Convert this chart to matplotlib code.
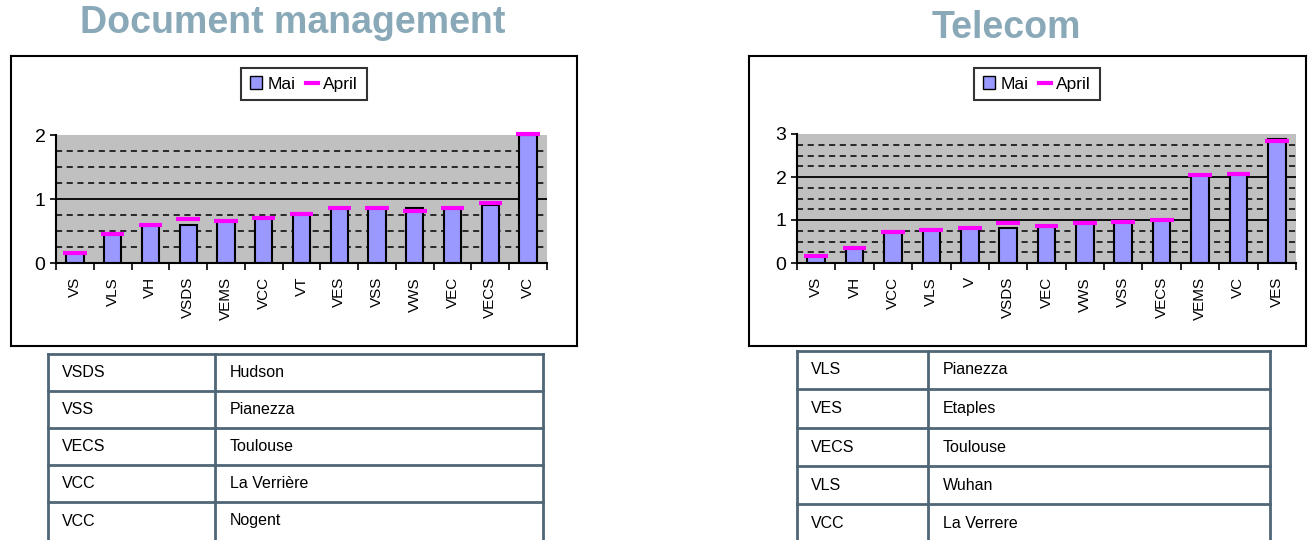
import numpy as np
import matplotlib; matplotlib.use("Agg")
import matplotlib.pyplot as plt
from matplotlib.patches import Rectangle, Patch
from matplotlib.lines import Line2D

plt.rcParams['font.family'] = ['Liberation Sans', 'DejaVu Sans']

# --- data ---
doc_cats = ['VS', 'VLS', 'VH', 'VSDS', 'VEMS', 'VCC', 'VT', 'VES', 'VSS', 'VWS', 'VEC', 'VECS', 'VC']
doc_mai = [0.15, 0.45, 0.59, 0.59, 0.65, 0.71, 0.76, 0.855, 0.855, 0.855, 0.855, 0.91, 2.0]
doc_april = [0.16, 0.45, 0.60, 0.68, 0.65, 0.71, 0.76, 0.855, 0.855, 0.81, 0.855, 0.935, 2.02]

tel_cats = ['VS', 'VH', 'VCC', 'VLS', 'V', 'VSDS', 'VEC', 'VWS', 'VSS', 'VECS', 'VEMS', 'VC', 'VES']
tel_mai = [0.16, 0.34, 0.73, 0.76, 0.81, 0.82, 0.87, 0.92, 0.955, 0.99, 2.04, 2.08, 2.89]
tel_april = [0.16, 0.35, 0.73, 0.76, 0.81, 0.92, 0.87, 0.92, 0.955, 0.99, 2.04, 2.08, 2.83]

doc_table = [('VSDS', 'Hudson'), ('VSS', 'Pianezza'), ('VECS', 'Toulouse'),
             ('VCC', 'La Verrière'), ('VCC', 'Nogent')]
tel_table = [('VLS', 'Pianezza'), ('VES', 'Etaples'), ('VECS', 'Toulouse'),
             ('VLS', 'Wuhan'), ('VCC', 'La Verrere')]

W, H = 1309, 540
fig = plt.figure(figsize=(W / 100, H / 100), dpi=100)


def box(x0, y0, x1, y1):
    return [x0 / W, 1 - y1 / H, (x1 - x0) / W, (y1 - y0) / H]


def fx(x):
    return x / W


def fy(y):
    return 1 - y / H


def chart(frame, plot, legend_c, cats, mai, april, ymax, solid):
    fr = fig.add_axes(box(*frame))
    fr.set_xticks([]); fr.set_yticks([])
    for s in fr.spines.values():
        s.set_linewidth(1.5)
    ax = fig.add_axes(box(*plot))
    ax.set_facecolor('#C0C0C0')
    x = np.arange(len(cats))
    for g in np.arange(0.25, ymax, 0.25):
        if g in solid:
            ax.axhline(g, color='black', lw=1.3, zorder=1)
        else:
            ax.axhline(g, color='black', lw=1.1, ls=(0, (4, 3)), zorder=1)
    ax.bar(x, mai, width=0.46, color='#9999FF', edgecolor='black', lw=1.5, zorder=2)
    for xi, a in zip(x, april):
        ax.plot([xi - 0.31, xi + 0.31], [a, a], color='#FF00FF', lw=3,
                solid_capstyle='butt', zorder=3, clip_on=False)
    ax.set_xlim(-0.5, len(cats) - 0.5)
    ax.set_ylim(0, ymax)
    ax.set_yticks(range(0, ymax + 1))
    ax.tick_params(axis='y', length=4, width=1.2, labelsize=14)
    ax.set_xticks(x)
    ax.set_xticklabels(cats, rotation=90, fontsize=11)
    ax.set_xticks(np.arange(-0.5, len(cats), 1.0), minor=True)
    ax.tick_params(axis='x', which='major', length=0, pad=10)
    ax.tick_params(axis='x', which='minor', length=5, width=1.2)
    ax.spines['top'].set_visible(False)
    ax.spines['right'].set_visible(False)
    ax.spines['left'].set_linewidth(1.5)
    ax.spines['bottom'].set_linewidth(1.5)
    handles = [Patch(facecolor='#9999FF', edgecolor='black', lw=1),
               Line2D([0], [0], color='#FF00FF', lw=3)]
    leg = fig.legend(handles, ['Mai', 'April'], loc='center',
                     bbox_to_anchor=(fx(legend_c[0]), fy(legend_c[1])),
                     ncol=2, fontsize=12.5, frameon=True, fancybox=False,
                     handlelength=0.7, handletextpad=0.3, columnspacing=0.6,
                     borderpad=0.5, edgecolor='black')
    leg.get_frame().set_linewidth(1.5)


def table(x0, xm, x1, rows_y, rows):
    c = '#4F6677'
    for y in rows_y:
        fig.add_artist(Line2D([fx(x0), fx(x1)], [fy(y), fy(y)], color=c, lw=2))
    for xx in (x0, xm, x1):
        fig.add_artist(Line2D([fx(xx), fx(xx)], [fy(rows_y[0]), fy(H + 5)], color=c, lw=2))
    for i, (a, b) in enumerate(rows):
        ym = (rows_y[i] + rows_y[i + 1]) / 2 if i + 1 < len(rows_y) else rows_y[i] + 19
        fig.text(fx(x0 + 14), fy(ym), a, fontsize=11.5, va='center')
        fig.text(fx(xm + 15), fy(ym), b, fontsize=11.5, va='center')


chart((11, 56, 577, 346), (56, 135, 547, 263), (304, 84),
      doc_cats, doc_mai, doc_april, 2, [1.0])
chart((749, 56, 1306, 346), (797, 134, 1296, 263), (1037, 84),
      tel_cats, tel_mai, tel_april, 3, [1.0, 2.0])

table(48, 215, 543, [354, 391, 428, 465, 502], doc_table)
table(797, 928, 1270, [351, 389, 428, 466, 504], tel_table)

fig.text(fx(293), fy(23), 'Document management', fontsize=27, fontweight='bold',
         color='#8AA9B8', ha='center', va='center')
fig.text(fx(1006), fy(28), 'Telecom', fontsize=27, fontweight='bold',
         color='#8AA9B8', ha='center', va='center')

fig.savefig('out.png', dpi=100)
